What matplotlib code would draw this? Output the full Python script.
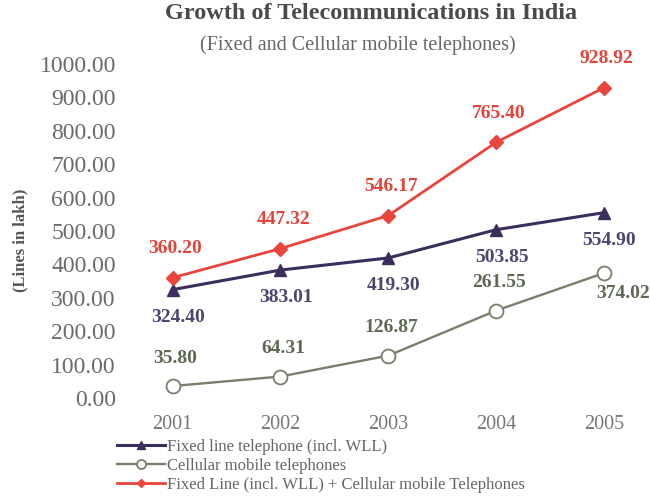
import matplotlib.pyplot as plt

years = [2001, 2002, 2003, 2004, 2005]
fixed = [324.40, 383.01, 419.30, 503.85, 554.90]
cellular = [35.80, 64.31, 126.87, 261.55, 374.02]
total = [360.20, 447.32, 546.17, 765.40, 928.92]
yticks = [0, 100, 200, 300, 400, 500, 600, 700, 800, 900, 1000]

plt.rcParams['font.family'] = ['Liberation Serif', 'DejaVu Serif']

RED = '#e8453c'
PURPLE = '#3b2e5c'
GREEN = '#76806a'

fig = plt.figure(figsize=(6.5, 4.98), dpi=100)
ax = fig.add_axes([0.1825, 0.2008, 0.8212, 0.6707])

ax.plot(years, fixed, color=PURPLE, lw=2.2, marker='^', ms=9,
        label='Fixed line telephone (incl. WLL)', clip_on=False, zorder=3)
ax.plot(years, cellular, color=GREEN, lw=1.7, marker='o', ms=10,
        mfc='white', mec=GREEN, mew=1.3,
        label='Cellular mobile telephones', clip_on=False, zorder=3)
ax.plot(years, total, color=RED, lw=2.0, marker='D', ms=7,
        label='Fixed Line (incl. WLL) + Cellular mobile Telephones',
        clip_on=False, zorder=3)

# value labels: total above, fixed below, cellular above
lab = dict(textcoords='offset points', ha='center', va='center',
           fontsize=14, fontweight='bold')
for x, v in zip(years, total):
    ax.annotate(f'{v:.2f}', (x, v), xytext=(2, 21), color='#e0443a', **lab)
for x, v in zip(years, fixed):
    ax.annotate(f'{v:.2f}', (x, v), xytext=(4, -20), color='#4d4470', **lab)
for i, (x, v) in enumerate(zip(years, cellular)):
    off = (14, -15) if i == len(years) - 1 else (2, 20)
    ax.annotate(f'{v:.2f}', (x, v), xytext=off, color='#5e6852', **lab)

ax.set_xlim(2000.5, 2005.45)
ax.set_ylim(0, 1000)
ax.set_xticks(years)
ax.set_xticklabels([str(y) for y in years], fontsize=14.5, color='#777777')
ax.set_yticks(yticks)
ax.set_yticklabels([f'{t:.2f}' for t in yticks], fontsize=17, color='#6a6a6a')
ax.tick_params(axis='both', length=0)
ax.tick_params(axis='x', pad=12)
ax.tick_params(axis='y', pad=2)
for s in ax.spines.values():
    s.set_visible(False)

fig.text(0.032, 0.518, '(Lines in lakh)', rotation=90, ha='center', va='center',
         fontsize=12, fontweight='bold', color='#555555')
fig.text(0.571, 0.972, 'Growth of Telecommunications in India', ha='center',
         va='center', fontsize=17.5, fontweight='bold', color='#4a4a4a')
fig.text(0.55, 0.91, '(Fixed and Cellular mobile telephones)', ha='center',
         va='center', fontsize=14.5, color='#666666')

fig.legend(loc='upper left', bbox_to_anchor=(0.18, 0.118), frameon=False,
           fontsize=12, handlelength=2.9, handletextpad=0.1,
           labelspacing=0.17, borderaxespad=0, borderpad=0,
           markerscale=0.65, labelcolor='#666666')

fig.savefig('out.png', dpi=100)
